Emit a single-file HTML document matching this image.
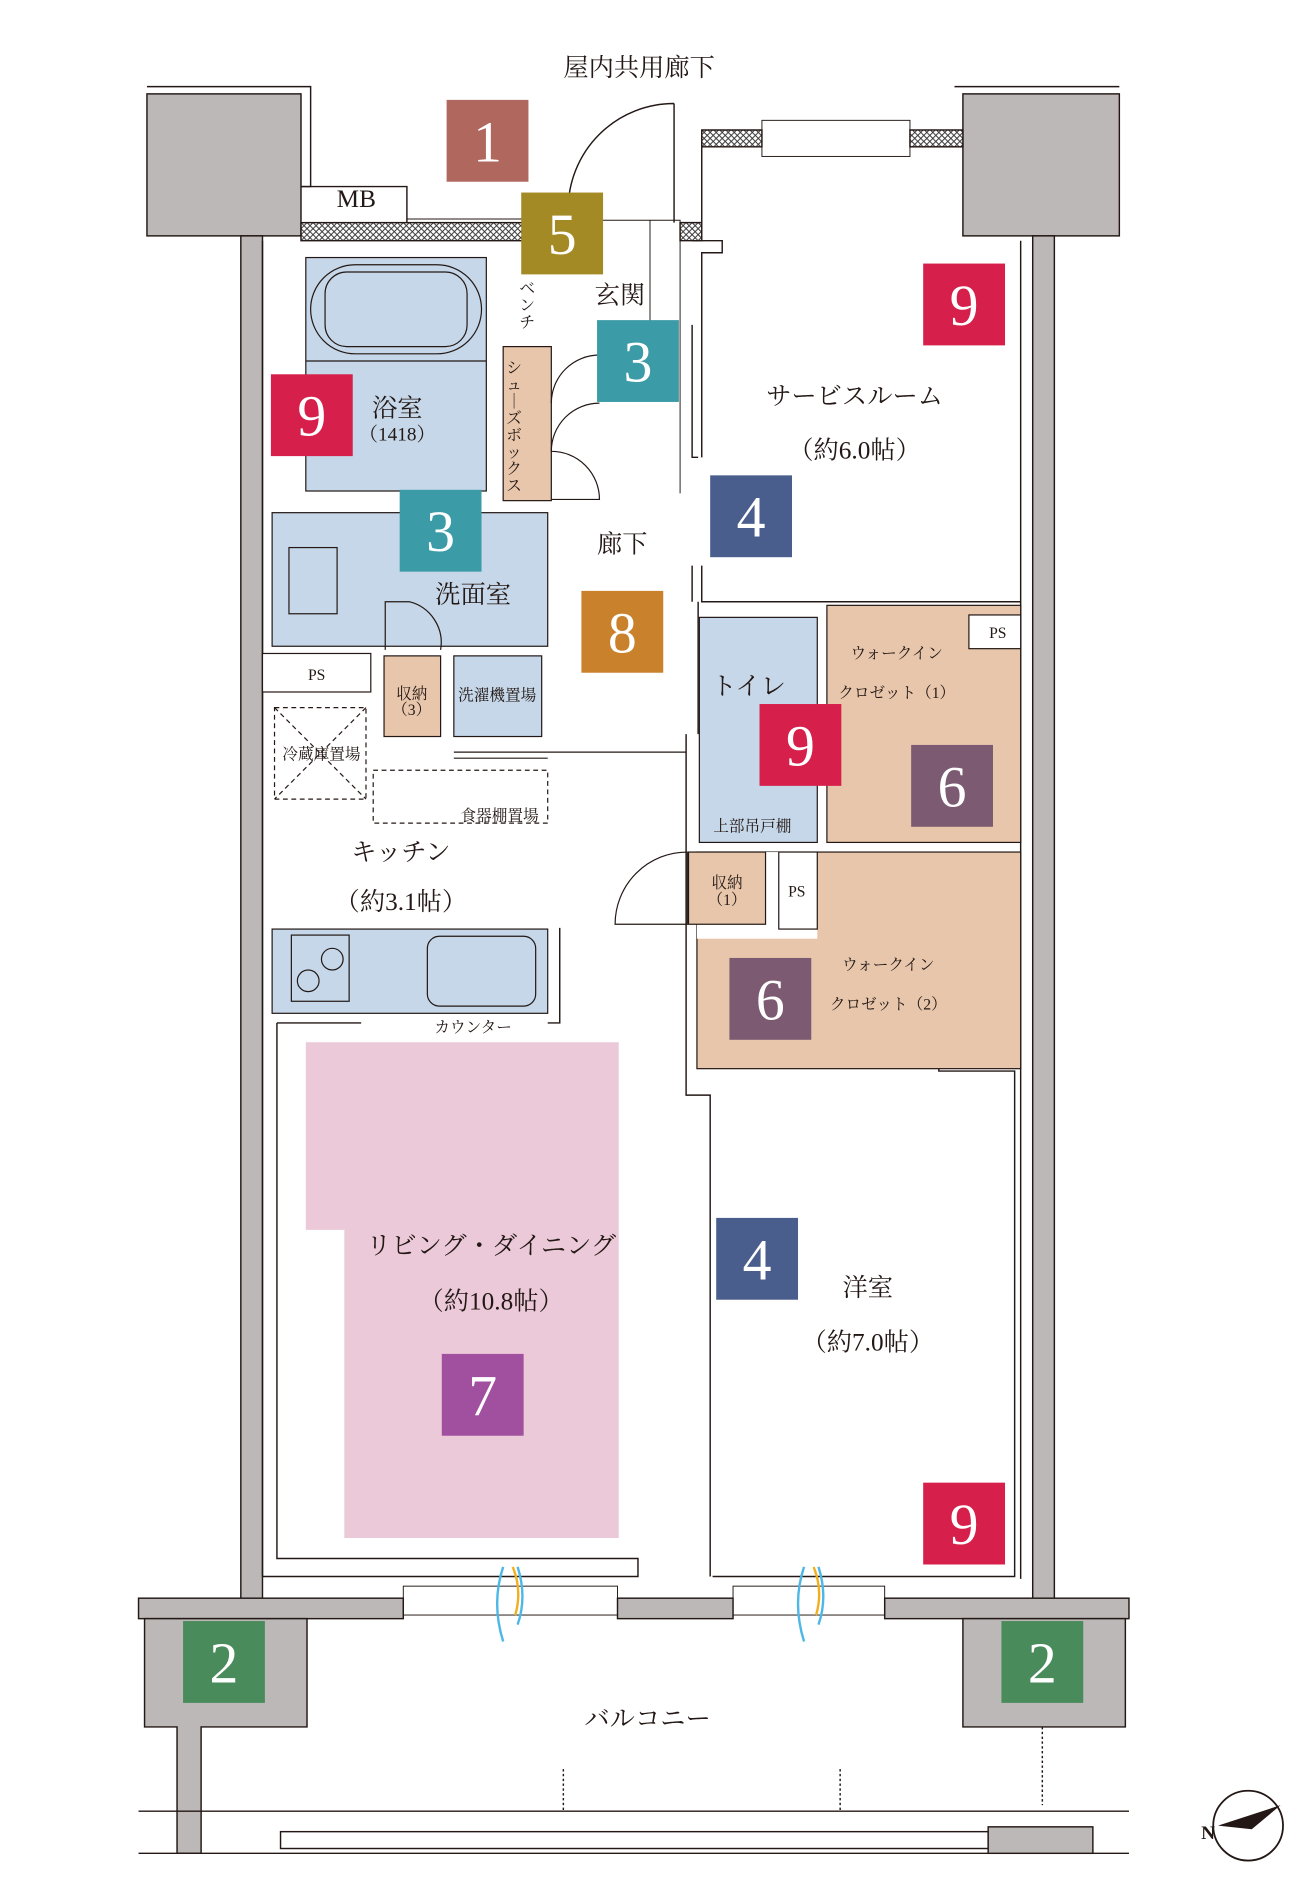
<!DOCTYPE html>
<html><head><meta charset="utf-8"><style>
html,body{margin:0;padding:0;background:#fff;}
svg{display:block;}
text{font-family:"Liberation Serif","Noto Serif CJK SC","Noto Sans CJK JP",serif;fill:#231815;}
.n{fill:#fff;font-size:48px;text-anchor:middle;}
.l{font-size:21px;text-anchor:middle;}
.s{font-size:13px;text-anchor:middle;}
</style></head><body>
<svg width="1300" height="1881" viewBox="0 0 1080 1563" xmlns="http://www.w3.org/2000/svg">
<defs>
<pattern id="hx" width="5" height="5" patternUnits="userSpaceOnUse"><rect width="5" height="5" fill="#fff"/><path d="M0 0L5 5M5 0L0 5" stroke="#333" stroke-width="0.8"/></pattern>
</defs>
<g stroke="#231815" stroke-width="1.2">
<path d="M122 72H258V155H250" fill="none"/>
<path d="M793 72H930" fill="none"/>
<rect x="122" y="78" width="128" height="118" fill="#bcb8b7"/>
<rect x="800" y="78" width="130" height="118" fill="#bcb8b7"/>
<rect x="200" y="196" width="18" height="1134" fill="#bcb8b7"/>
<rect x="858" y="196" width="18" height="1134" fill="#bcb8b7"/>
<rect x="250" y="185" width="190" height="15" fill="url(#hx)"/>
<path d="M565 185H583V108H633V122H583V200H565Z" fill="url(#hx)"/>
<rect x="756" y="108" width="44" height="14" fill="url(#hx)"/>
<rect x="633" y="100" width="123" height="30" fill="none" stroke-width="0.8"/>
<path d="M250 155H338V185" fill="none"/>
<path d="M338 182H440" fill="none" stroke-width="0.8"/>
<path d="M560 86V185M560 86A88 88 0 0 0 472 174" fill="none"/>
<path d="M500 183H565V410M540 183V285" fill="none" stroke-width="0.8"/>
<path d="M218 200V1310M848 200V1312M575 200H600V210H583V380M583 470V500H848" fill="none"/>
<path d="M575 270V380H580M575 470V500M580 500V610M570 610V700M570 700V910H590V1310" fill="none"/>
<path d="M230 850V1295H530V1310H218M300 850H230M455 850H465V771" fill="none"/>
<path d="M592 1310H843V890H780V882H687" fill="none"/>
</g>
<rect x="254" y="214" width="150" height="194" fill="#c5d7e8" stroke="#231815" stroke-width="1"/>
<rect x="258" y="220" width="142" height="74" rx="37" fill="none" stroke="#231815"/>
<rect x="270" y="226" width="118" height="62" rx="18" fill="none" stroke="#231815"/>
<line x1="254" y1="300" x2="404" y2="300" stroke="#231815"/>
<rect x="226" y="426" width="229" height="111" fill="#c5d7e8" stroke="#231815"/>
<rect x="240" y="455" width="40" height="55" fill="#c5d7e8" stroke="#231815"/>
<rect x="581" y="513" width="98" height="187" fill="#c5d7e8" stroke="#231815"/>
<rect x="226" y="772" width="229" height="70" fill="#c5d7e8" stroke="#231815"/>
<rect x="242" y="777" width="48" height="55" fill="none" stroke="#231815"/>
<circle cx="256" cy="815" r="9" fill="none" stroke="#231815"/><circle cx="276" cy="797" r="9" fill="none" stroke="#231815"/>
<rect x="355" y="778" width="90" height="58" rx="10" fill="none" stroke="#231815"/>
<rect x="418" y="288" width="40" height="128" fill="#e7c6ab" stroke="#231815"/>
<rect x="687" y="503" width="161" height="197" fill="#e7c6ab" stroke="#231815"/>
<rect x="579" y="708" width="269" height="180" fill="#e7c6ab" stroke="#231815"/>
<rect x="579" y="708" width="100" height="72" fill="#fff"/>
<rect x="572" y="708" width="64" height="60" fill="#e7c6ab" stroke="#231815"/>
<rect x="647" y="708" width="32" height="64" fill="#fff" stroke="#231815"/>
<rect x="319" y="545" width="47" height="67" fill="#e7c6ab" stroke="#231815"/>
<rect x="377" y="545" width="73" height="67" fill="#c5d7e8" stroke="#231815"/>
<rect x="218" y="543" width="90" height="32" fill="#fff" stroke="#231815"/>
<rect x="805" y="511" width="43" height="28" fill="#fff" stroke="#231815"/>
<rect x="228" y="588" width="76" height="76" fill="none" stroke="#231815" stroke-dasharray="4 3"/>
<path d="M228 588L304 664M304 588L228 664M310 640L455 640V684H310Z" fill="none" stroke="#231815" stroke-dasharray="4 3"/>
<path d="M511 768A60 60 0 0 1 571 708V768Z" fill="none" stroke="#231815"/>
<path d="M377 625H570M377 630H455" stroke="#231815"/>
<path d="M320 540V500H340A35 35 0 0 1 366 540" fill="none" stroke="#231815"/>
<path d="M458 335A40 40 0 0 1 498 295M458 375A40 40 0 0 1 498 335M458 375A40 40 0 0 1 498 415H458" fill="none" stroke="#231815"/>
<path d="M254 866H514V1278H286V1022H254Z" fill="#ebc9d8"/>
<g stroke="#231815" stroke-width="1.2">
<rect x="115" y="1328" width="220" height="17" fill="#bcb8b7"/>
<rect x="513" y="1328" width="96" height="17" fill="#bcb8b7"/>
<rect x="735" y="1328" width="203" height="17" fill="#bcb8b7"/>
<path d="M120 1345H255V1435H167V1540H147V1435H120Z" fill="#bcb8b7"/>
<path d="M935 1345H800V1435H935Z" fill="#bcb8b7"/>
<rect x="335" y="1318" width="178" height="24" fill="none" stroke-width="0.8"/>
<rect x="609" y="1318" width="126" height="24" fill="none" stroke-width="0.8"/>
<path d="M115 1505H938M115 1540H938" fill="none"/>
<rect x="233" y="1522" width="588" height="14" fill="none"/>
<rect x="821" y="1518" width="87" height="22" fill="#bcb8b7"/>
<path d="M866 1435V1500M468 1470V1505M698 1470V1505" fill="none" stroke-dasharray="2 2"/>
</g>
<path d="M418 1302q-10 30 0 62M430 1302q8 25 0 48M668 1302q-10 30 0 62M680 1302q8 25 0 48" fill="none" stroke="#4db8e6" stroke-width="2"/>
<path d="M426 1302q8 20 2 40M676 1302q8 20 2 40" fill="none" stroke="#f0b020" stroke-width="2"/>
<circle cx="1037" cy="1517" r="29" fill="none" stroke="#231815" stroke-width="1.5"/>
<path d="M1012 1517L1064 1500L1040 1520Z" fill="#231815"/>
<text x="998" y="1528" style="font-size:16px;font-weight:bold;">N</text>
<g>
<rect x="371" y="83" width="68" height="68" fill="#af675e"/><text class="n" x="405" y="134">1</text>
<rect x="433" y="160" width="68" height="68" fill="#a48a24"/><text class="n" x="467" y="211">5</text>
<rect x="496" y="266" width="68" height="68" fill="#3b9ba6"/><text class="n" x="530" y="317">3</text>
<rect x="332" y="407" width="68" height="68" fill="#3b9ba6"/><text class="n" x="366" y="458">3</text>
<rect x="767" y="219" width="68" height="68" fill="#d6204b"/><text class="n" x="801" y="270">9</text>
<rect x="225" y="311" width="68" height="68" fill="#d6204b"/><text class="n" x="259" y="362">9</text>
<rect x="631" y="585" width="68" height="68" fill="#d6204b"/><text class="n" x="665" y="636">9</text>
<rect x="767" y="1232" width="68" height="68" fill="#d6204b"/><text class="n" x="801" y="1283">9</text>
<rect x="590" y="395" width="68" height="68" fill="#4a5e8e"/><text class="n" x="624" y="446">4</text>
<rect x="595" y="1012" width="68" height="68" fill="#4a5e8e"/><text class="n" x="629" y="1063">4</text>
<rect x="483" y="491" width="68" height="68" fill="#c9812b"/><text class="n" x="517" y="542">8</text>
<rect x="757" y="619" width="68" height="68" fill="#7b5a72"/><text class="n" x="791" y="670">6</text>
<rect x="606" y="796" width="68" height="68" fill="#7b5a72"/><text class="n" x="640" y="847">6</text>
<rect x="367" y="1125" width="68" height="68" fill="#a0509f"/><text class="n" x="401" y="1176">7</text>
<rect x="152" y="1347" width="68" height="68" fill="#4a8b5b"/><text class="n" x="186" y="1398">2</text>
<rect x="832" y="1347" width="68" height="68" fill="#4a8b5b"/><text class="n" x="866" y="1398">2</text>
</g>
<text class="l" x="531" y="63">屋内共用廊下</text>
<text class="l" x="296" y="172">MB</text>
<text class="l" x="515" y="252">玄関</text>
<text class="s" x="438" y="244">ベ</text><text class="s" x="438" y="258">ン</text><text class="s" x="438" y="272">チ</text>
<g class="s" style="font-size:13px">
<text class="s" x="427" y="310">シ</text><text class="s" x="427" y="324">ュ</text><text class="s" x="427" y="338">｜</text><text class="s" x="427" y="352">ズ</text><text class="s" x="427" y="366">ボ</text><text class="s" x="427" y="380">ッ</text><text class="s" x="427" y="394">ク</text><text class="s" x="427" y="408">ス</text>
</g>
<text class="l" x="330" y="346">浴室</text>
<text class="s" x="330" y="366" style="font-size:16px">（1418）</text>
<text class="l" x="710" y="336">サービスルーム</text>
<text class="l" x="710" y="381">（約6.0帖）</text>
<text class="l" x="517" y="459">廊下</text>
<text class="l" x="393" y="501">洗面室</text>
<text class="s" x="263" y="565">PS</text>
<text class="s" x="829" y="530">PS</text>
<text class="s" x="342" y="581">収納</text><text class="s" x="342" y="594">（3）</text>
<text class="s" x="413" y="582">洗濯機置場</text>
<text class="s" x="267" y="631">冷蔵庫置場</text>
<text class="s" x="415" y="682">食器棚置場</text>
<text class="l" x="622" y="577">トイレ</text>
<text class="s" x="625" y="691">上部吊戸棚</text>
<text class="s" x="745" y="547">ウォークイン</text>
<text class="s" x="745" y="580">クロゼット（1）</text>
<text class="l" x="333" y="715">キッチン</text>
<text class="l" x="333" y="756">（約3.1帖）</text>
<text class="s" x="604" y="738">収納</text><text class="s" x="604" y="752">（1）</text>
<text class="s" x="662" y="745">PS</text>
<text class="s" x="738" y="806">ウォークイン</text>
<text class="s" x="738" y="839">クロゼット（2）</text>
<text class="s" x="393" y="858">カウンター</text>
<text class="l" x="408" y="1042">リビング・ダイニング</text>
<text class="l" x="408" y="1088">（約10.8帖）</text>
<text class="l" x="721" y="1077">洋室</text>
<text class="l" x="721" y="1122">（約7.0帖）</text>
<text class="l" x="538" y="1435">バルコニー</text>
</svg>
</body></html>
